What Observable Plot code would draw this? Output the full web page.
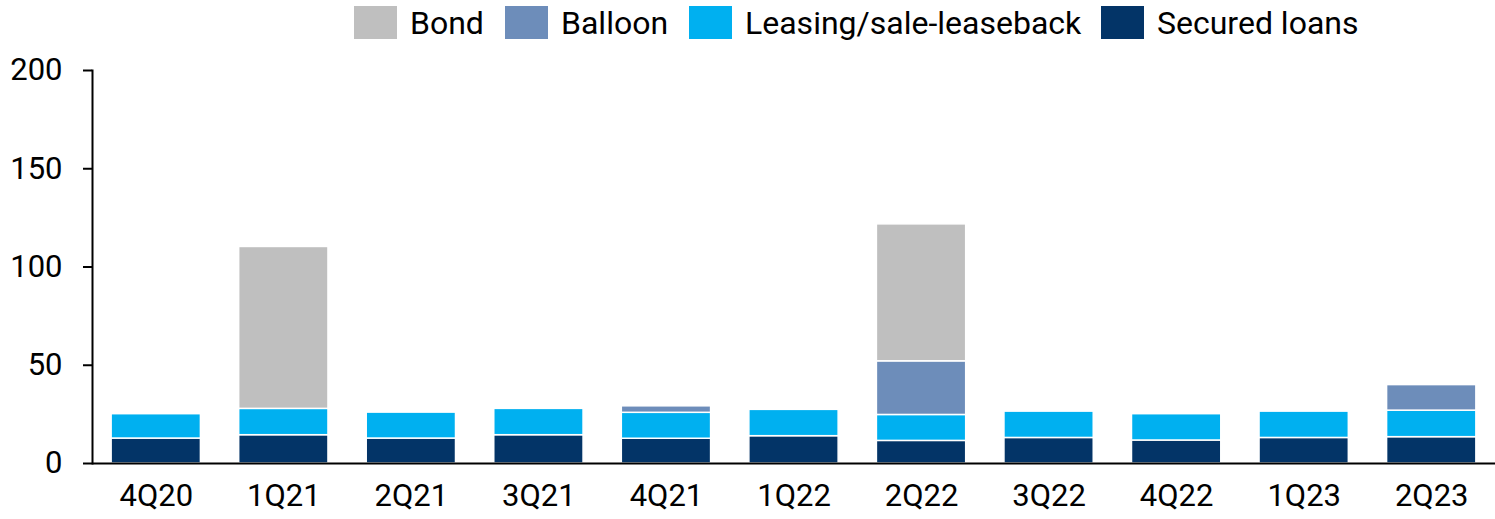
<!DOCTYPE html>
<html>
<head>
<meta charset="utf-8">
<script src="https://cdn.jsdelivr.net/npm/d3@7"></script>
<script src="https://cdn.jsdelivr.net/npm/@observablehq/plot@0.6"></script>
<style>
  html, body { margin: 0; padding: 0; background: #fff; }
  body { width: 1495px; height: 519px; overflow: hidden; font-family: Roboto, sans-serif; }
  #legend { position: relative; height: 45px; }
  .item { position: absolute; top: 6px; height: 33px; display: flex; align-items: center; font-size: 32px; color: #000; white-space: nowrap; }
  .sw { width: 43px; height: 33px; margin-right: 13px; flex: none; }
</style>
</head>
<body>
<div id="legend"></div>
<div id="chart"></div>
<script>
const quarters = ["4Q20","1Q21","2Q21","3Q21","4Q21","1Q22","2Q22","3Q22","4Q22","1Q23","2Q23"];
const securedLoans = [12.7, 14.4, 12.7, 14.4, 12.6, 13.9, 11.5, 13.0, 11.7, 13.0, 13.4];
const leasing      = [12.4, 13.4, 13.2, 13.4, 13.2, 13.4, 13.2, 13.4, 13.4, 13.4, 13.5];
const balloon      = [0, 0, 0, 0, 3.3, 0, 27.3, 0, 0, 0, 13.0];
const bond         = [0, 82.4, 0, 0, 0, 0, 69.7, 0, 0, 0, 0];
const seriesNames  = ["Secured loans", "Leasing/sale-leaseback", "Balloon", "Bond"];
const seriesColors = ["#033467", "#00b0f0", "#6d8dba", "#bfbfbf"];
const yTicks = [0, 50, 100, 150, 200];
const legendOrder = ["Bond", "Balloon", "Leasing/sale-leaseback", "Secured loans"];
const legendLeft = [354, 505, 689, 1101];

const seriesValues = [securedLoans, leasing, balloon, bond];
const rows = [];
seriesNames.forEach((s, si) => {
  quarters.forEach((q, qi) => {
    const v = seriesValues[si][qi];
    if (v > 0) rows.push({quarter: q, series: s, value: v});
  });
});

const legend = document.getElementById("legend");
legendOrder.forEach((name, i) => {
  const item = document.createElement("div");
  item.className = "item";
  item.style.left = legendLeft[i] + "px";
  const sw = document.createElement("div");
  sw.className = "sw";
  sw.style.background = seriesColors[seriesNames.indexOf(name)];
  const t = document.createElement("span");
  t.textContent = name;
  item.appendChild(sw); item.appendChild(t);
  legend.appendChild(item);
});

const chart = Plot.plot({
  width: 1495,
  height: 474,
  marginTop: 25,
  marginBottom: 56,
  marginLeft: 92,
  marginRight: 0,
  style: {fontFamily: "Roboto, sans-serif", fontSize: "31px", color: "#000", background: "#fff"},
  x: {domain: quarters, paddingInner: 0.3, paddingOuter: 0.15, round: false, tickSize: 0, tickPadding: 20, label: null},
  y: {domain: [0, 200], ticks: yTicks, tickSize: 9, tickPadding: 21, label: null, line: true, tickFormat: d => String(d)},
  color: {domain: seriesNames, range: seriesColors},
  marks: [
    Plot.barY(rows, {
      x: "quarter", y: "value", fill: "series",
      order: seriesNames,
      stroke: "white", strokeWidth: 1.5
    }),
    Plot.ruleY([0], {stroke: "#000", strokeWidth: 2})
  ]
});
document.getElementById("chart").appendChild(chart);
d3.select(chart).selectAll("[aria-label='y-axis tick'] path, [aria-label='y-axis tick'], [aria-label='frame'], [aria-label='y-axis line']").attr("stroke-width", 2);
</script>
</body>
</html>
